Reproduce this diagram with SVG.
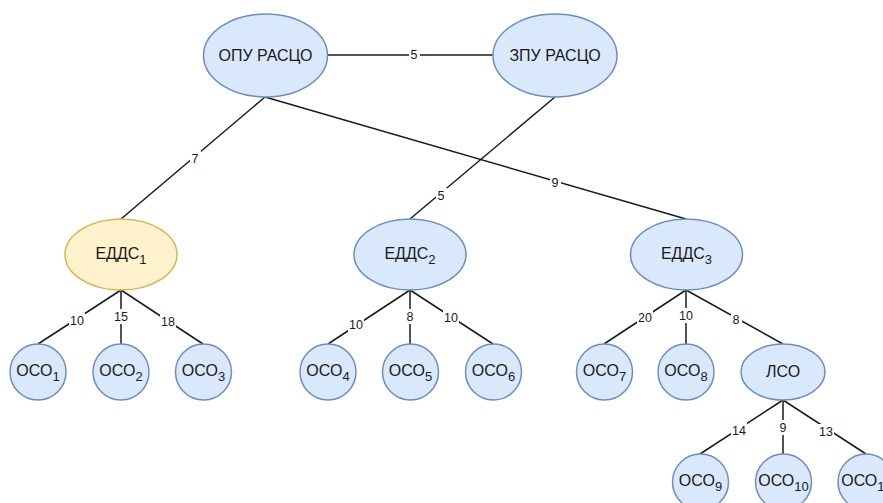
<svg xmlns="http://www.w3.org/2000/svg" width="883" height="503" viewBox="0 0 883 503">
<style>
.n{fill:#dae8fc;stroke:#6c8ebf;stroke-width:1.5}
.y{fill:#fff2cc;stroke:#d6b656;stroke-width:1.5}
.t{font-family:"Liberation Sans",Arial,sans-serif;font-size:16px;fill:#1a1a1a;text-anchor:middle}
.e{stroke:#1a1a1a;stroke-width:1.5;fill:none}
.l{font-family:"Liberation Sans",Arial,sans-serif;font-size:12.5px;fill:#1a1a1a;text-anchor:middle}
.s{font-size:13px}
</style>
<rect width="883" height="503" fill="#ffffff"/>
<g id="connectors">
<line class="e" x1="328" y1="55" x2="493" y2="55"/>
<line class="e" x1="265" y1="97" x2="121" y2="219"/>
<line class="e" x1="265" y1="97" x2="686" y2="219"/>
<line class="e" x1="555" y1="97" x2="410" y2="219"/>
<line class="e" x1="121" y1="290" x2="38" y2="344"/>
<line class="e" x1="121" y1="290" x2="121" y2="344"/>
<line class="e" x1="121" y1="290" x2="203" y2="344"/>
<line class="e" x1="410" y1="290" x2="328" y2="344"/>
<line class="e" x1="410" y1="290" x2="410" y2="344"/>
<line class="e" x1="410" y1="290" x2="493" y2="344"/>
<line class="e" x1="686" y1="290" x2="604" y2="344"/>
<line class="e" x1="686" y1="290" x2="686" y2="344"/>
<line class="e" x1="686" y1="290" x2="783" y2="344"/>
<line class="e" x1="783" y1="400" x2="700" y2="454"/>
<line class="e" x1="783" y1="400" x2="783" y2="454"/>
<line class="e" x1="783" y1="400" x2="866" y2="454"/>
<g fill="#ffffff">
<rect x="409" y="47" width="11" height="15"/>
<rect x="190" y="151" width="11" height="15"/>
<rect x="550" y="175" width="11" height="15"/>
<rect x="436" y="188" width="11" height="15"/>
<rect x="69" y="313" width="16" height="15"/>
<rect x="113" y="309" width="16" height="15"/>
<rect x="160" y="314" width="16" height="15"/>
<rect x="348" y="317" width="16" height="15"/>
<rect x="405" y="309" width="11" height="15"/>
<rect x="443" y="310" width="16" height="15"/>
<rect x="637" y="310" width="16" height="15"/>
<rect x="678" y="308" width="16" height="15"/>
<rect x="731" y="312" width="11" height="15"/>
<rect x="731" y="423" width="16" height="15"/>
<rect x="778" y="420" width="11" height="15"/>
<rect x="818" y="424" width="16" height="15"/>
</g>
<text class="l" x="414" y="59">5</text>
<text class="l" x="195" y="163">7</text>
<text class="l" x="555" y="187">9</text>
<text class="l" x="441" y="200">5</text>
<text class="l" x="77" y="325">10</text>
<text class="l" x="121" y="321">15</text>
<text class="l" x="168" y="326">18</text>
<text class="l" x="356" y="329">10</text>
<text class="l" x="410" y="321">8</text>
<text class="l" x="451" y="322">10</text>
<text class="l" x="645" y="322">20</text>
<text class="l" x="686" y="320">10</text>
<text class="l" x="736" y="324">8</text>
<text class="l" x="739" y="435">14</text>
<text class="l" x="783" y="432">9</text>
<text class="l" x="826" y="436">13</text>
</g>
<g id="opu"><ellipse class="n" cx="265.5" cy="55.5" rx="62" ry="41.5"/><text class="t" x="265.5" y="61">ОПУ РАСЦО</text></g>
<g id="zpu"><ellipse class="n" cx="555" cy="55.5" rx="62" ry="41.5"/><text class="t" x="555" y="61">ЗПУ РАСЦО</text></g>
<g id="edds1"><ellipse class="y" cx="121" cy="254.5" rx="56" ry="35.5"/><text class="t" x="121" y="259">ЕДДС<tspan class="s" dy="5">1</tspan></text></g>
<g id="edds2"><ellipse class="n" cx="410" cy="254.5" rx="56" ry="35.5"/><text class="t" x="410" y="259">ЕДДС<tspan class="s" dy="5">2</tspan></text></g>
<g id="edds3"><ellipse class="n" cx="686.5" cy="254.5" rx="56" ry="35.5"/><text class="t" x="686.5" y="259">ЕДДС<tspan class="s" dy="5">3</tspan></text></g>
<g id="oco1"><circle class="n" cx="38" cy="372" r="28"/><text class="t" x="38" y="376">ОСО<tspan class="s" dy="5">1</tspan></text></g>
<g id="oco2"><circle class="n" cx="121" cy="372" r="28"/><text class="t" x="121" y="376">ОСО<tspan class="s" dy="5">2</tspan></text></g>
<g id="oco3"><circle class="n" cx="203.5" cy="372" r="28"/><text class="t" x="203.5" y="376">ОСО<tspan class="s" dy="5">3</tspan></text></g>
<g id="oco4"><circle class="n" cx="328" cy="372" r="28"/><text class="t" x="328" y="376">ОСО<tspan class="s" dy="5">4</tspan></text></g>
<g id="oco5"><circle class="n" cx="410.5" cy="372" r="28"/><text class="t" x="410.5" y="376">ОСО<tspan class="s" dy="5">5</tspan></text></g>
<g id="oco6"><circle class="n" cx="493.5" cy="372" r="28"/><text class="t" x="493.5" y="376">ОСО<tspan class="s" dy="5">6</tspan></text></g>
<g id="oco7"><circle class="n" cx="604.5" cy="372" r="28"/><text class="t" x="604.5" y="376">ОСО<tspan class="s" dy="5">7</tspan></text></g>
<g id="oco8"><circle class="n" cx="686" cy="372" r="28"/><text class="t" x="686" y="376">ОСО<tspan class="s" dy="5">8</tspan></text></g>
<g id="lso"><ellipse class="n" cx="783" cy="372" rx="42" ry="28"/><text class="t" x="783" y="377">ЛСО</text></g>
<g id="oco9"><circle class="n" cx="700.5" cy="482" r="28"/><text class="t" x="700.5" y="486">ОСО<tspan class="s" dy="5">9</tspan></text></g>
<g id="oco10"><circle class="n" cx="783.5" cy="482" r="28"/><text class="t" x="783.5" y="486">ОСО<tspan class="s" dy="5">10</tspan></text></g>
<g id="oco11"><circle class="n" cx="866" cy="482" r="28"/><text class="t" x="866" y="486">ОСО<tspan class="s" dy="5">11</tspan></text></g>
</svg>
